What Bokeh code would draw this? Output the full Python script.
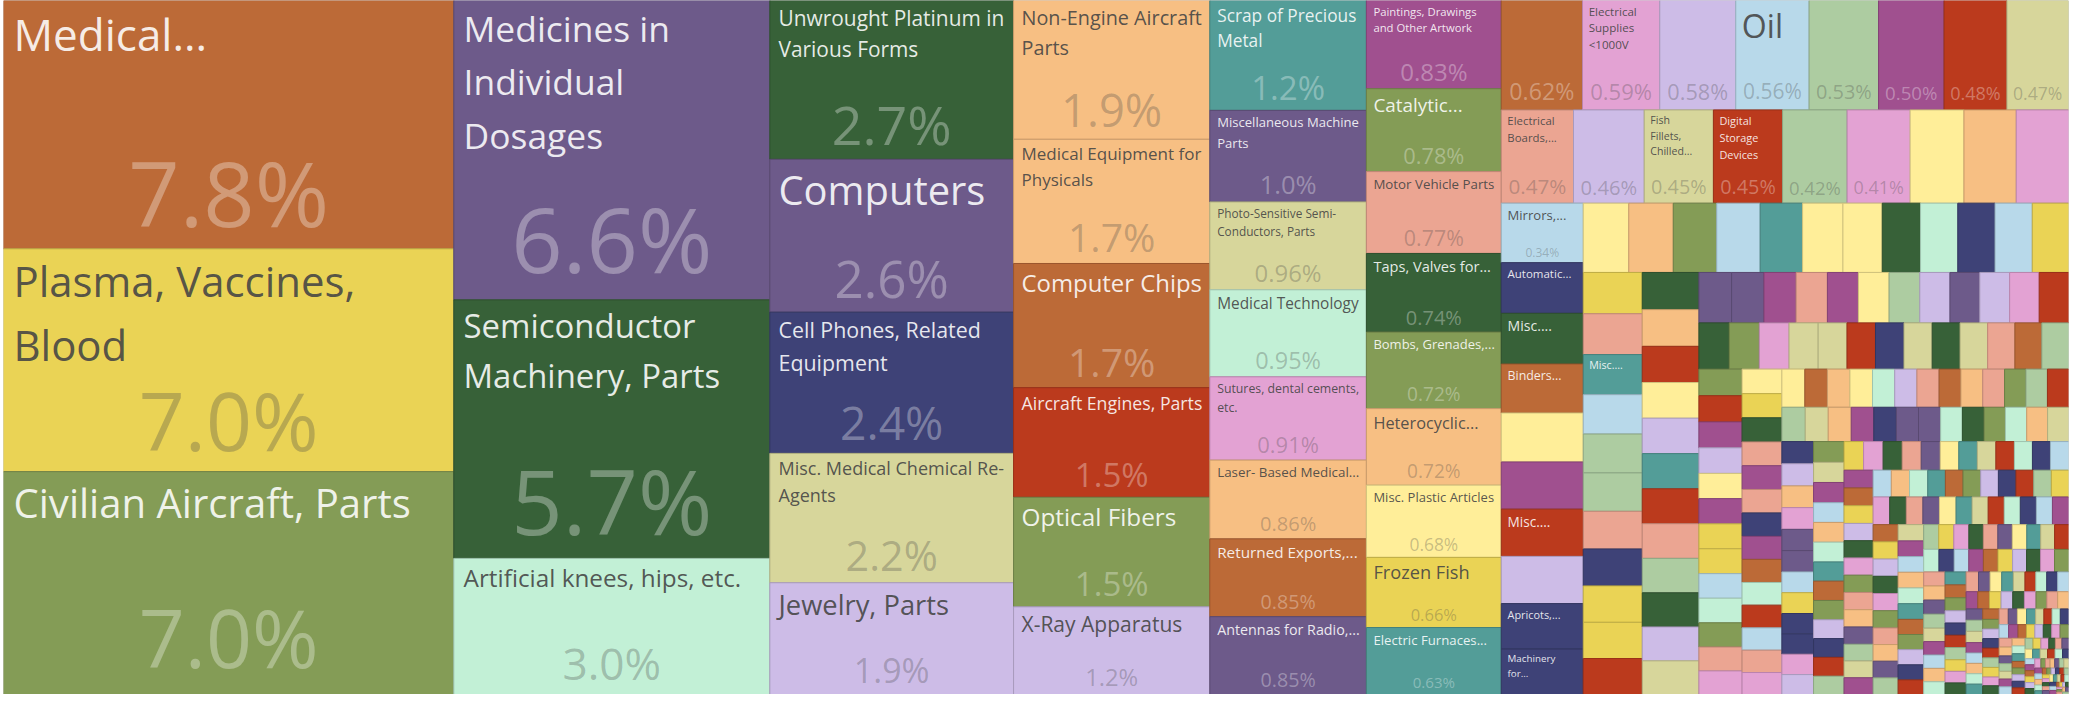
import math
from bokeh.plotting import figure
from bokeh.models import ColumnDataSource, Range1d
from bokeh.embed import file_html
from bokeh.resources import INLINE
from bokeh.core.properties import value, field

# ---------------- data (shares in % of total) ----------------
names = [
    "Medical...", "Plasma, Vaccines,\nBlood", "Civilian Aircraft, Parts",
    "Medicines in\nIndividual\nDosages", "Semiconductor\nMachinery, Parts", "Artificial knees, hips, etc.",
    "Unwrought Platinum in\nVarious Forms", "Computers", "Cell Phones, Related\nEquipment",
    "Misc. Medical Chemical Re-\nAgents", "Jewelry, Parts",
    "Non-Engine Aircraft\nParts", "Medical Equipment for\nPhysicals", "Computer Chips",
    "Aircraft Engines, Parts", "Optical Fibers", "X-Ray Apparatus",
    "Scrap of Precious\nMetal", "Miscellaneous Machine\nParts", "Photo-Sensitive Semi-\nConductors, Parts",
    "Medical Technology", "Sutures, dental cements,\netc.", "Laser- Based Medical...",
    "Returned Exports,...", "Antennas for Radio,...",
    "Paintings, Drawings\nand Other Artwork", "Catalytic...", "Motor Vehicle Parts",
    "Taps, Valves for...", "Bombs, Grenades,...", "Heterocyclic...", "Misc. Plastic Articles",
    "Frozen Fish", "Electric Furnaces...",
    "", "Electrical\nSupplies\n<1000V", "", "Oil", "", "", "", "",
    "Electrical\nBoards,...", "", "Fish\nFillets,\nChilled...", "Digital\nStorage\nDevices", "", "", "", "", "",
    "Mirrors,...", "Automatic...", "Misc....", "Binders...", "", "", "Misc....", "", "Apricots,...", "Machinery\nfor...",
]
shares = [
    7.8, 7.0, 7.0, 6.6, 5.7, 3.0, 2.7, 2.6, 2.4, 2.2, 1.9,
    1.9, 1.7, 1.7, 1.5, 1.5, 1.2, 1.2, 1.0, 0.96, 0.95, 0.91, 0.86, 0.85, 0.85,
    0.83, 0.78, 0.77, 0.74, 0.72, 0.72, 0.68, 0.66, 0.63,
    0.62, 0.59, 0.58, 0.56, 0.53, 0.50, 0.48, 0.47,
    0.47, 0.46, 0.45, 0.45, 0.42, 0.41, 0.35, 0.34, 0.34,
    0.34, 0.29, 0.29, 0.28, 0.28, 0.27, 0.27, 0.27, 0.26, 0.26,
]
colors = [
    "orange", "yellow", "olive", "purple", "dkgreen", "mint", "dkgreen", "purple", "navy", "khaki", "lavender",
    "peach", "peach", "orange", "red", "olive", "lavender", "teal", "purple", "khaki", "mint", "pink", "peach",
    "orange", "purple", "magenta", "olive", "salmon", "dkgreen", "olive", "peach", "ly", "yellow", "teal",
    "orange", "pink", "lavender", "lightblue", "lightgreen", "magenta", "red", "khaki",
    "salmon", "lavender", "khaki", "red", "lightgreen", "pink", "ly", "peach", "pink",
    "lightblue", "navy", "dkgreen", "orange", "ly", "magenta", "red", "lavender", "navy", "navy",
]

# smaller unnamed products (%), in order of size
minor_shares = [
    0.22, 0.215, 0.21, 0.21, 0.205, 0.195, 0.19, 0.185, 0.18, 0.18, 0.18, 0.175,
    0.17, 0.168, 0.165, 0.162, 0.16, 0.158, 0.155, 0.152, 0.15, 0.149, 0.148,
    0.147, 0.145, 0.143, 0.141, 0.14, 0.139, 0.138, 0.137, 0.136, 0.135, 0.134, 0.133,
    0.115, 0.114, 0.113, 0.11, 0.109, 0.108, 0.108, 0.106, 0.105, 0.105, 0.104, 0.103,
    0.098, 0.097, 0.096, 0.094, 0.093, 0.092, 0.092, 0.091, 0.09, 0.089, 0.088, 0.087, 0.086,
    0.08, 0.079, 0.078, 0.077, 0.076, 0.076, 0.075, 0.075, 0.074, 0.074, 0.073, 0.072, 0.071,
    0.068, 0.067, 0.067, 0.066, 0.066, 0.065, 0.065, 0.064, 0.064, 0.063, 0.063, 0.062, 0.062,
    0.061, 0.061, 0.06, 0.06, 0.06, 0.059, 0.059, 0.059, 0.058, 0.058, 0.058, 0.057, 0.057,
    0.056, 0.056, 0.055, 0.055, 0.054, 0.054, 0.053, 0.053, 0.052, 0.052, 0.051, 0.051, 0.05, 0.05,
    0.049, 0.049, 0.048, 0.048, 0.047, 0.047, 0.046, 0.046, 0.045, 0.045, 0.045, 0.044, 0.044,
]
minor_colors = [
    "ly", "peach", "olive", "lightblue", "teal", "ly", "ly", "dkgreen", "mint", "navy", "lightblue", "yellow",
    "yellow", "salmon", "teal", "lightblue", "lightgreen", "lightgreen", "salmon", "navy", "yellow", "yellow", "red",
    "dkgreen", "peach", "red", "ly", "lavender", "teal", "red", "salmon", "lightgreen", "dkgreen", "lavender", "khaki",
    "purple", "purple", "magenta", "salmon", "magenta", "ly", "lightgreen", "lavender", "purple", "lavender", "pink", "red",
    "dkgreen", "olive", "pink", "khaki", "khaki", "red", "navy", "khaki", "dkgreen", "khaki", "salmon", "orange", "lightgreen",
    "olive", "red", "magenta", "lavender", "ly", "magenta", "yellow", "yellow", "lightblue", "mint", "olive", "salmon", "pink",
    "ly", "yellow", "dkgreen", "salmon", "magenta", "salmon", "navy", "magenta", "orange", "mint", "red", "lightblue", "salmon",
    "pink", "ly", "orange", "peach", "ly", "mint", "lavender", "salmon", "orange", "peach", "salmon", "olive", "lightgreen",
    "red", "lightgreen", "khaki", "peach", "magenta", "navy", "purple", "purple", "mint", "dkgreen", "olive", "mint", "peach", "khaki",
    "navy", "lavender", "peach", "pink", "purple", "purple", "lightblue", "yellow", "navy", "navy", "pink", "lavender", "olive",
]
minor_labels = {14: "Misc...."}

# the long tail of tiny products, in thousandths of a percent
micro_shares_milli = [
    43, 43, 42, 42, 42, 41, 41, 41, 40, 40, 40, 39, 39, 39,
    38, 38, 38, 37, 37, 37, 37, 36, 36, 36, 36, 36, 36, 35, 35, 35, 35, 35, 35, 35,
    34, 34, 34, 34, 34, 34, 33, 33, 33, 33, 33, 33, 33, 32, 32, 32, 32, 32, 32,
    31, 31, 31, 31, 31, 31, 31, 30, 30, 30, 30, 30, 30, 29, 29, 29, 29, 29, 28, 28, 28, 28, 28,
    27, 27, 27, 27, 26, 26, 26, 26, 25, 25, 25, 25, 24, 24, 24, 24, 24,
    23, 23, 23, 23, 22, 22, 22, 22, 21, 21, 21, 21, 20, 20, 20, 20, 19, 19, 19, 19,
    18, 18, 18, 18, 17, 17, 17, 17, 16, 16, 16, 16, 15, 15, 15, 15,
    14, 14, 14, 14, 14, 14, 13, 13, 13, 13, 13, 13, 12, 12, 12, 12, 12, 12,
    11, 11, 11, 11, 11, 11, 10, 10, 10, 10, 10, 10, 9, 9, 9, 9, 9, 9,
    8, 8, 8, 8, 8, 8, 8, 8, 7, 7, 7, 7, 7, 7, 7, 7, 6, 6, 6, 6, 6, 6, 6, 6,
    5, 5, 5, 5, 5, 5, 5, 5, 4, 4, 4, 4, 4, 4, 4, 4,
    3, 3, 3, 3, 3, 3, 3, 3, 3, 3, 2, 2, 2, 2, 2, 2, 2, 2, 2, 2, 2, 2, 2, 2, 2, 2, 2, 2, 2, 2,
    1, 1, 1, 1, 1, 1, 1, 1, 1, 1,
]

# ---------------- style ----------------
PAL = {
    "orange": "#BC6A37", "yellow": "#EAD355", "olive": "#849C56", "purple": "#6D5A8A",
    "dkgreen": "#376138", "mint": "#C2F0D6", "navy": "#3E4277", "khaki": "#D7D69B",
    "lavender": "#CDBCE7", "peach": "#F7BF83", "red": "#BB3A1D", "teal": "#539D98",
    "pink": "#E3A2D3", "magenta": "#A0508F", "salmon": "#EBA592", "ly": "#FFEE99",
    "lightblue": "#B8D9EA", "lightgreen": "#ADCCA1", "white": "#FFFFFF",
}
MICRO_CYCLE = ["khaki", "magenta", "lightblue", "peach", "mint", "teal", "orange", "olive", "lavender",
               "navy", "red", "lightgreen", "yellow", "pink", "dkgreen", "salmon", "purple", "ly",
               "teal", "khaki", "red", "mint", "navy", "lightblue", "magenta", "orange", "yellow",
               "lavender", "dkgreen", "pink", "olive", "salmon", "peach", "purple", "lightgreen"]

W, H = 2065, 694
FONT = "Open Sans"

CW = {
    ' ': .26, 'a': .556, 'b': .613, 'c': .48, 'd': .613, 'e': .561, 'f': .336, 'g': .546, 'h': .614,
    'i': .253, 'j': .253, 'k': .525, 'l': .253, 'm': .931, 'n': .614, 'o': .601, 'p': .613, 'q': .613,
    'r': .408, 's': .477, 't': .353, 'u': .614, 'v': .501, 'w': .775, 'x': .515, 'y': .502, 'z': .468,
    'A': .633, 'B': .647, 'C': .631, 'D': .729, 'E': .556, 'F': .516, 'G': .728, 'H': .738, 'I': .279,
    'J': .267, 'K': .614, 'L': .519, 'M': .903, 'N': .754, 'O': .779, 'P': .602, 'Q': .779, 'R': .618,
    'S': .549, 'T': .553, 'U': .728, 'V': .592, 'W': .924, 'X': .577, 'Y': .56, 'Z': .571,
    '.': .258, ',': .245, '%': .823, '-': .322, '<': .572, "'": .2,
}
for d in "0123456789":
    CW[d] = .572


def em(s):
    return sum(CW.get(c, .56) for c in s)


def rgb(h):
    h = h.lstrip("#")
    return tuple(int(h[i:i + 2], 16) for i in (0, 2, 4))


def darker(h, k=0.82):
    r, g, b = rgb(h)
    return "#%02x%02x%02x" % (int(r * k), int(g * k), int(b * k))


def is_light(h):
    r, g, b = rgb(h)
    return (r * 299 + g * 587 + b * 114) / 1000 >= 150


PHI = (1 + 5 ** 0.5) / 2


def squarify(vals, x0, y0, x1, y1, ratio=PHI):
    """Port of d3.treemapSquarify."""
    n = len(vals)
    out = [None] * n
    i0 = i1 = 0
    total = sum(vals)
    while i0 < n:
        dx, dy = x1 - x0, y1 - y0
        s = vals[i1]
        i1 += 1
        mn = mx = s
        alpha = max(dy / dx, dx / dy) / (total * ratio)
        beta = s * s * alpha
        min_ratio = max(mx / beta, beta / mn)
        while i1 < n:
            nv = vals[i1]
            s += nv
            mn = min(mn, nv)
            mx = max(mx, nv)
            beta = s * s * alpha
            r = max(mx / beta, beta / mn)
            if r > min_ratio:
                s -= nv
                break
            min_ratio = r
            i1 += 1
        if dx < dy:
            yb = y0 + dy * s / total if total else y1
            xx = x0
            for k in range(i0, i1):
                ww = dx * vals[k] / s
                out[k] = (xx, y0, xx + ww, yb)
                xx += ww
            y0 = yb
        else:
            xr = x0 + dx * s / total if total else x1
            yy = y0
            for k in range(i0, i1):
                hh = dy * vals[k] / s
                out[k] = (x0, yy, xr, yy + hh)
                yy += hh
            x0 = xr
        total -= s
        i0 = i1
    return out


# ---------------- assemble ----------------
all_vals = shares + minor_shares + [m / 1000 for m in micro_shares_milli]
all_names = names + [minor_labels.get(i, "") for i in range(len(minor_shares))] + [""] * len(micro_shares_milli)
all_cols = [PAL[c] for c in colors + minor_colors] + \
    [PAL[MICRO_CYCLE[i % len(MICRO_CYCLE)]] for i in range(len(micro_shares_milli))]
grand = sum(all_vals)

rects = squarify(all_vals, 0, 0, W, H)

cells = dict(x0=[], x1=[], y0=[], y1=[], fill=[], stroke=[])
lab = dict(x=[], y=[], t=[], fs=[], col=[], a=[])
pct = dict(x=[], y=[], t=[], fs=[], col=[], a=[])

for v, nm, c, (x0, y0, x1, y1) in zip(all_vals, all_names, all_cols, rects):
    cells["x0"].append(x0); cells["x1"].append(x1)
    cells["y0"].append(y0); cells["y1"].append(y1)
    cells["fill"].append(c); cells["stroke"].append(darker(c))
    w, h = x1 - x0, y1 - y0
    light = is_light(c)
    tcol = "#444444" if light else "#FFFFFF"
    pad = min(10.0, 5 + 0.015 * w)
    if nm:
        lines = nm.split("\n")
        nch = len(nm.replace("\n", ""))
        f = min(44.0, 0.62 * math.sqrt(w * h / nch),
                (w - 2 * pad) / max(em(l) for l in lines),
                0.55 * h / (len(lines) * 1.15))
        if f >= 8.5:
            lab["x"].append(x0 + pad); lab["y"].append(y0 + 3)
            lab["t"].append(nm); lab["fs"].append("%.1fpx" % f)
            lab["col"].append(tcol); lab["a"].append(0.9 if light else 0.88)
    share = v / grand * 100
    txt = ("%.1f%%" % share) if share >= 1 else ("%.2f%%" % share)
    pf = min(90.0, 0.42 * h - 13, 0.8 * w / em(txt))
    if pf >= 11 and w >= 58:
        # centre of the digits sits a little above the bottom of the cell,
        # kept so that the whole text box stays inside the picture
        cy = min(y1 - 0.1 * h - 0.36 * pf, H - 1 - 0.7 * pf)
        pct["x"].append(x0 + w / 2); pct["y"].append(cy)
        pct["t"].append(txt); pct["fs"].append("%.1fpx" % pf)
        pct["col"].append(tcol); pct["a"].append(0.3 if light else 0.32)

p = figure(frame_width=W, frame_height=H, x_range=Range1d(0, W), y_range=Range1d(H, 0),
           output_backend="svg", toolbar_location=None,
           min_border_left=3, min_border_right=4, min_border_top=0, min_border_bottom=0,
           x_axis_location=None, y_axis_location=None)
p.xgrid.visible = False
p.ygrid.visible = False
p.outline_line_color = None
p.background_fill_color = "white"
p.border_fill_color = "white"

p.quad(left="x0", right="x1", top="y0", bottom="y1", fill_color="fill", line_color="stroke",
       line_width=1, source=ColumnDataSource(cells))

p.text(x="x", y="y", text="t", text_font=value(FONT), text_font_size=field("fs"),
       text_color=field("col"), text_alpha=field("a"), text_align="left", text_baseline="top",
       text_line_height=1.12, source=ColumnDataSource(lab))
p.text(x="x", y="y", text="t", text_font=value(FONT), text_font_size=field("fs"),
       text_color=field("col"), text_alpha=field("a"), text_align="center", text_baseline="middle",
       source=ColumnDataSource(pct))

open("out.html", "w").write(file_html(p, INLINE))
